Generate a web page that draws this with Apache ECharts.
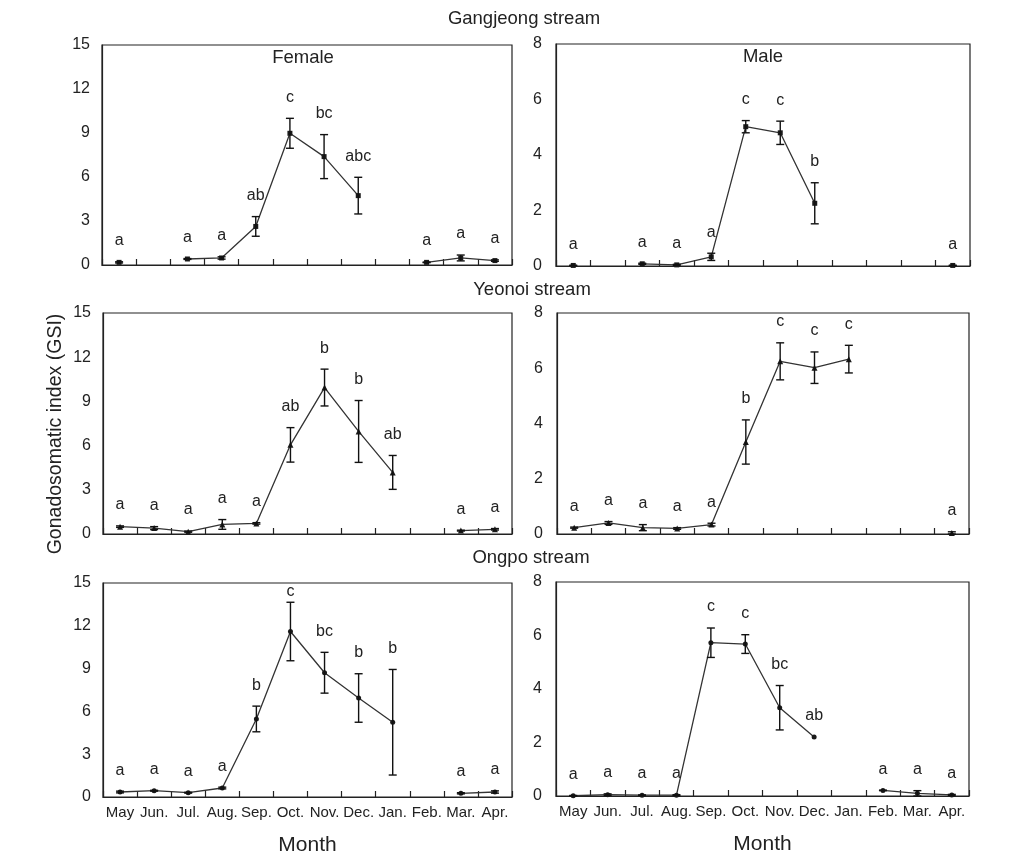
<!DOCTYPE html>
<html>
<head>
<meta charset="utf-8">
<script src="https://cdn.jsdelivr.net/npm/echarts@6/dist/echarts.min.js"></script>
<style>
html,body{margin:0;padding:0;background:#fff;}
#chart{width:1017px;height:866px;}
</style>
</head>
<body>
<div id="chart"></div>
<script>
// ---- data ----
const months = ['May', 'Jun.', 'Jul.', 'Aug.', 'Sep.', 'Oct.', 'Nov.', 'Dec.', 'Jan.', 'Feb.', 'Mar.', 'Apr.'];

const streamTitles = ['Gangjeong stream', 'Yeonoi stream', 'Ongpo stream'];
const sexTitles = ['Female', 'Male'];

const femaleTicks = { min: 0, max: 15, interval: 3 };
const maleTicks = { min: 0, max: 8, interval: 2 };

const gjFemaleMean = [0.18, null, 0.41, 0.48, 2.63, 8.98, 7.39, 4.73, null, 0.18, 0.48, 0.30];
const gjFemaleSE = [0.04, null, 0.03, 0.08, 0.67, 1.02, 1.50, 1.25, null, 0.02, 0.20, 0.05];
const gjFemaleLetters = ['a', null, 'a', 'a', 'ab', 'c', 'bc', 'abc', null, 'a', 'a', 'a'];

const gjMaleMean = [0.02, null, 0.08, 0.04, 0.33, 5.02, 4.80, 2.26, null, null, null, 0.02];
const gjMaleSE = [0.01, null, 0.02, 0.02, 0.13, 0.22, 0.42, 0.74, null, null, null, 0.01];
const gjMaleLetters = ['a', null, 'a', 'a', 'a', 'c', 'c', 'b', null, null, null, 'a'];

const yoFemaleMean = [0.50, 0.40, 0.16, 0.65, 0.72, 6.05, 9.94, 6.96, 4.18, null, 0.23, 0.32];
const yoFemaleSE = [0.05, 0.10, 0.04, 0.33, 0.05, 1.17, 1.25, 2.10, 1.15, null, 0.03, 0.05];
const yoFemaleLetters = ['a', 'a', 'a', 'a', 'a', 'ab', 'b', 'b', 'ab', null, 'a', 'a'];

const yoMaleMean = [0.23, 0.40, 0.23, 0.20, 0.34, 3.33, 6.25, 6.02, 6.33, null, null, 0.04];
const yoMaleSE = [0.02, 0.05, 0.11, 0.03, 0.05, 0.80, 0.67, 0.57, 0.50, null, null, 0.04];
const yoMaleLetters = ['a', 'a', 'a', 'a', 'a', 'b', 'c', 'c', 'c', null, null, 'a'];

const opFemaleMean = [0.35, 0.44, 0.30, 0.63, 5.47, 11.60, 8.71, 6.94, 5.24, null, 0.26, 0.35];
const opFemaleSE = [0.06, 0.03, 0.03, 0.06, 0.90, 2.05, 1.43, 1.70, 3.70, null, 0.04, 0.08];
const opFemaleLetters = ['a', 'a', 'a', 'a', 'b', 'c', 'bc', 'b', 'b', null, 'a', 'a'];

const opMaleMean = [0.01, 0.05, 0.03, 0.03, 5.73, 5.68, 3.30, 2.21, null, 0.21, 0.10, 0.04];
const opMaleSE = [0.01, 0.03, 0.01, 0.02, 0.55, 0.35, 0.83, 0, null, 0.01, 0.10, 0.02];
const opMaleLetters = ['a', 'a', 'a', 'a', 'c', 'c', 'bc', 'ab', null, 'a', 'a', 'a'];

// ---- layout ----
const FONT = '"Liberation Sans", Arial, sans-serif';
const TXT = '#222';
const panels = [
  { mean: gjFemaleMean, se: gjFemaleSE, letters: gjFemaleLetters, ticks: femaleTicks, symbol: 'rect', grid: { left: 102, top: 45, width: 410, height: 220 }, bottom: false, labelMargin: 12 },
  { mean: gjMaleMean, se: gjMaleSE, letters: gjMaleLetters, ticks: maleTicks, symbol: 'rect', grid: { left: 556, top: 44, width: 414, height: 222 }, bottom: false, labelMargin: 14 },
  { mean: yoFemaleMean, se: yoFemaleSE, letters: yoFemaleLetters, ticks: femaleTicks, symbol: 'triangle', grid: { left: 103, top: 313, width: 409, height: 221 }, bottom: false, labelMargin: 12 },
  { mean: yoMaleMean, se: yoMaleSE, letters: yoMaleLetters, ticks: maleTicks, symbol: 'triangle', grid: { left: 557, top: 313, width: 412, height: 221 }, bottom: false, labelMargin: 14 },
  { mean: opFemaleMean, se: opFemaleSE, letters: opFemaleLetters, ticks: femaleTicks, symbol: 'circle', grid: { left: 103, top: 583, width: 409, height: 214 }, bottom: true, labelMargin: 12 },
  { mean: opMaleMean, se: opMaleSE, letters: opMaleLetters, ticks: maleTicks, symbol: 'circle', grid: { left: 556, top: 582, width: 413, height: 214 }, bottom: true, labelMargin: 14 }
];

const grids = [], xAxes = [], yAxes = [], series = [];
panels.forEach((p, k) => {
  grids.push(Object.assign({ show: true, borderColor: '#222', borderWidth: 1.2, backgroundColor: 'transparent' }, p.grid));
  xAxes.push({
    type: 'category', gridIndex: k, data: months, boundaryGap: true,
    axisLine: { show: true, lineStyle: { color: '#222', width: 1.2 } },
    axisTick: { show: true, inside: true, length: 6, interval: 0, lineStyle: { color: '#222', width: 1.2 } },
    axisLabel: { show: p.bottom, interval: 0, fontSize: 15, margin: 8, color: TXT, fontFamily: FONT },
    name: p.bottom ? 'Month' : '', nameLocation: 'middle', nameGap: 38,
    nameTextStyle: { fontSize: 21, color: TXT, fontFamily: FONT },
    splitLine: { show: false }
  });
  yAxes.push({
    type: 'value', gridIndex: k, min: p.ticks.min, max: p.ticks.max, interval: p.ticks.interval,
    axisLine: { show: true, lineStyle: { color: '#222', width: 1.2 } },
    axisTick: { show: false },
    splitLine: { show: false },
    axisLabel: { fontSize: 16, color: TXT, fontFamily: FONT, margin: p.labelMargin }
  });
  series.push({
    type: 'line', xAxisIndex: k, yAxisIndex: k, data: p.mean, connectNulls: false,
    symbol: p.symbol, symbolSize: p.symbol === 'triangle' ? 6 : 5, showSymbol: true, showAllSymbol: true,
    itemStyle: { color: '#1a1a1a' }, lineStyle: { color: '#333', width: 1.3 },
    emphasis: { disabled: true }, animation: false, z: 3
  });
  const ebData = [];
  p.mean.forEach((m, i) => { if (m !== null) ebData.push([i, m, p.se[i]]); });
  const letters = p.letters;
  series.push({
    type: 'custom', xAxisIndex: k, yAxisIndex: k, data: ebData, encode: { x: 0, y: 1 },
    animation: false, z: 4, silent: true,
    renderItem: function (params, api) {
      const i = api.value(0), m = api.value(1), s = api.value(2);
      const c = api.coord([i, m]);
      const t = api.coord([i, m + s]);
      const b = api.coord([i, m - s]);
      const w = 4;
      const st = { stroke: '#111', lineWidth: 1.4 };
      const children = [];
      if (s > 0) {
        children.push({ type: 'line', shape: { x1: c[0], y1: t[1], x2: c[0], y2: b[1] }, style: st });
        children.push({ type: 'line', shape: { x1: c[0] - w, y1: t[1], x2: c[0] + w, y2: t[1] }, style: st });
        children.push({ type: 'line', shape: { x1: c[0] - w, y1: b[1], x2: c[0] + w, y2: b[1] }, style: st });
      }
      const letter = letters[i];
      if (letter) {
        const cs = params.coordSys;
        const ly = Math.max(Math.min(t[1], c[1]) - 21, cs.y + 9);
        children.push({
          type: 'text',
          style: { text: letter, x: c[0], y: ly, align: 'center', verticalAlign: 'middle', fill: TXT, font: '16px ' + FONT }
        });
      }
      return { type: 'group', children: children };
    }
  });
});

const titleText = (text, x, y, size) => ({
  type: 'text', x: x, y: y, silent: true,
  style: { text: text, align: 'center', verticalAlign: 'middle', fill: TXT, font: size + 'px ' + FONT }
});
const gr = [
  titleText(streamTitles[0], 524, 19, 18.5),
  titleText(streamTitles[1], 532, 290, 18.5),
  titleText(streamTitles[2], 531, 558, 18.5),
  titleText(sexTitles[0], 303, 58, 18.5),
  titleText(sexTitles[1], 763, 57, 18.5),
  {
    type: 'text', x: 56, y: 434, rotation: Math.PI / 2, silent: true,
    style: { text: 'Gonadosomatic index (GSI)', align: 'center', verticalAlign: 'middle', fill: TXT, font: '19.5px ' + FONT }
  }
];

const chart = echarts.init(document.getElementById('chart'), null, { renderer: 'canvas' });
chart.setOption({
  backgroundColor: '#fff',
  animation: false,
  grid: grids,
  xAxis: xAxes,
  yAxis: yAxes,
  series: series,
  graphic: gr
});
</script>
</body>
</html>
